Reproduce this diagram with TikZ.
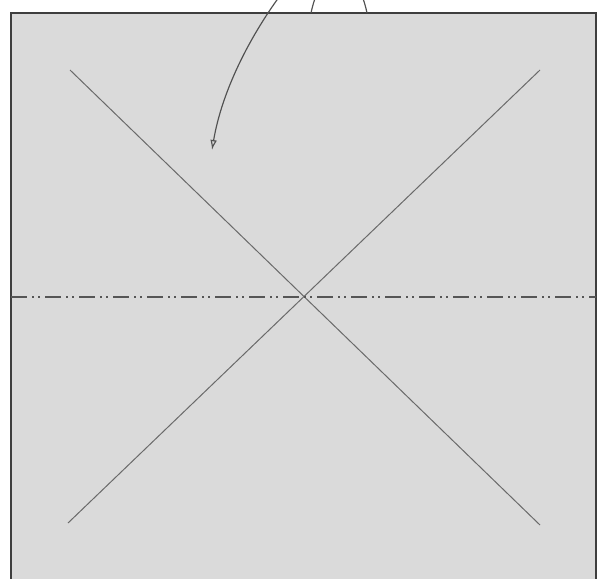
\documentclass[tikz,border=0pt]{standalone}
\usetikzlibrary{arrows.meta}
\definecolor{paper}{HTML}{DADADA}
\definecolor{edge}{HTML}{3E3E3E}
\definecolor{crease}{HTML}{6A6A6A}
\tikzset{
  creaseline/.style={draw=crease, line width=0.03cm},
  mountain/.style={draw=crease!80!black, line width=0.04cm,
    dash pattern=on 0.48cm off 0.15cm on 0.06cm off 0.12cm on 0.06cm off 0.15cm},
  foldarrow/.style={draw=edge!90, line width=0.035cm},
}
\begin{document}
\begin{tikzpicture}[x=0.03cm,y=-0.03cm]
\useasboundingbox (0,0) rectangle (599,578);
\clip (0,0) rectangle (599,578);
\fill[white] (0,0) rectangle (599,578);
% the square
\coordinate (TL) at (11,13);
\coordinate (BR) at (596,600);
\filldraw[fill=paper, draw=edge, line width=0.07cm] (TL) rectangle (BR);
% diagonals
\coordinate (a1) at (70,70);
\coordinate (a2) at (540,525);
\coordinate (b1) at (540,70);
\coordinate (b2) at (68,523);
\path[creaseline] (a1) -- (a2);
\path[creaseline] (b1) -- (b2);
% dash-dot-dot line
\coordinate (m1) at (11,297);
\coordinate (m2) at (596,297);
\path[mountain] (m1) -- (m2);
% arrows at top
\coordinate (s1) at (367,13);
\coordinate (s2) at (311,13);
\path[foldarrow] (s1) .. controls (356,-40) and (322,-40) .. (s2);
\coordinate (r0) at (292,-20);
\coordinate (r1) at (212,150);
\path[foldarrow, -{Latex[open,length=0.3cm,width=0.2cm]}] (r0) .. controls (252,30) and (222,90) .. (r1);
\end{tikzpicture}
\end{document}
